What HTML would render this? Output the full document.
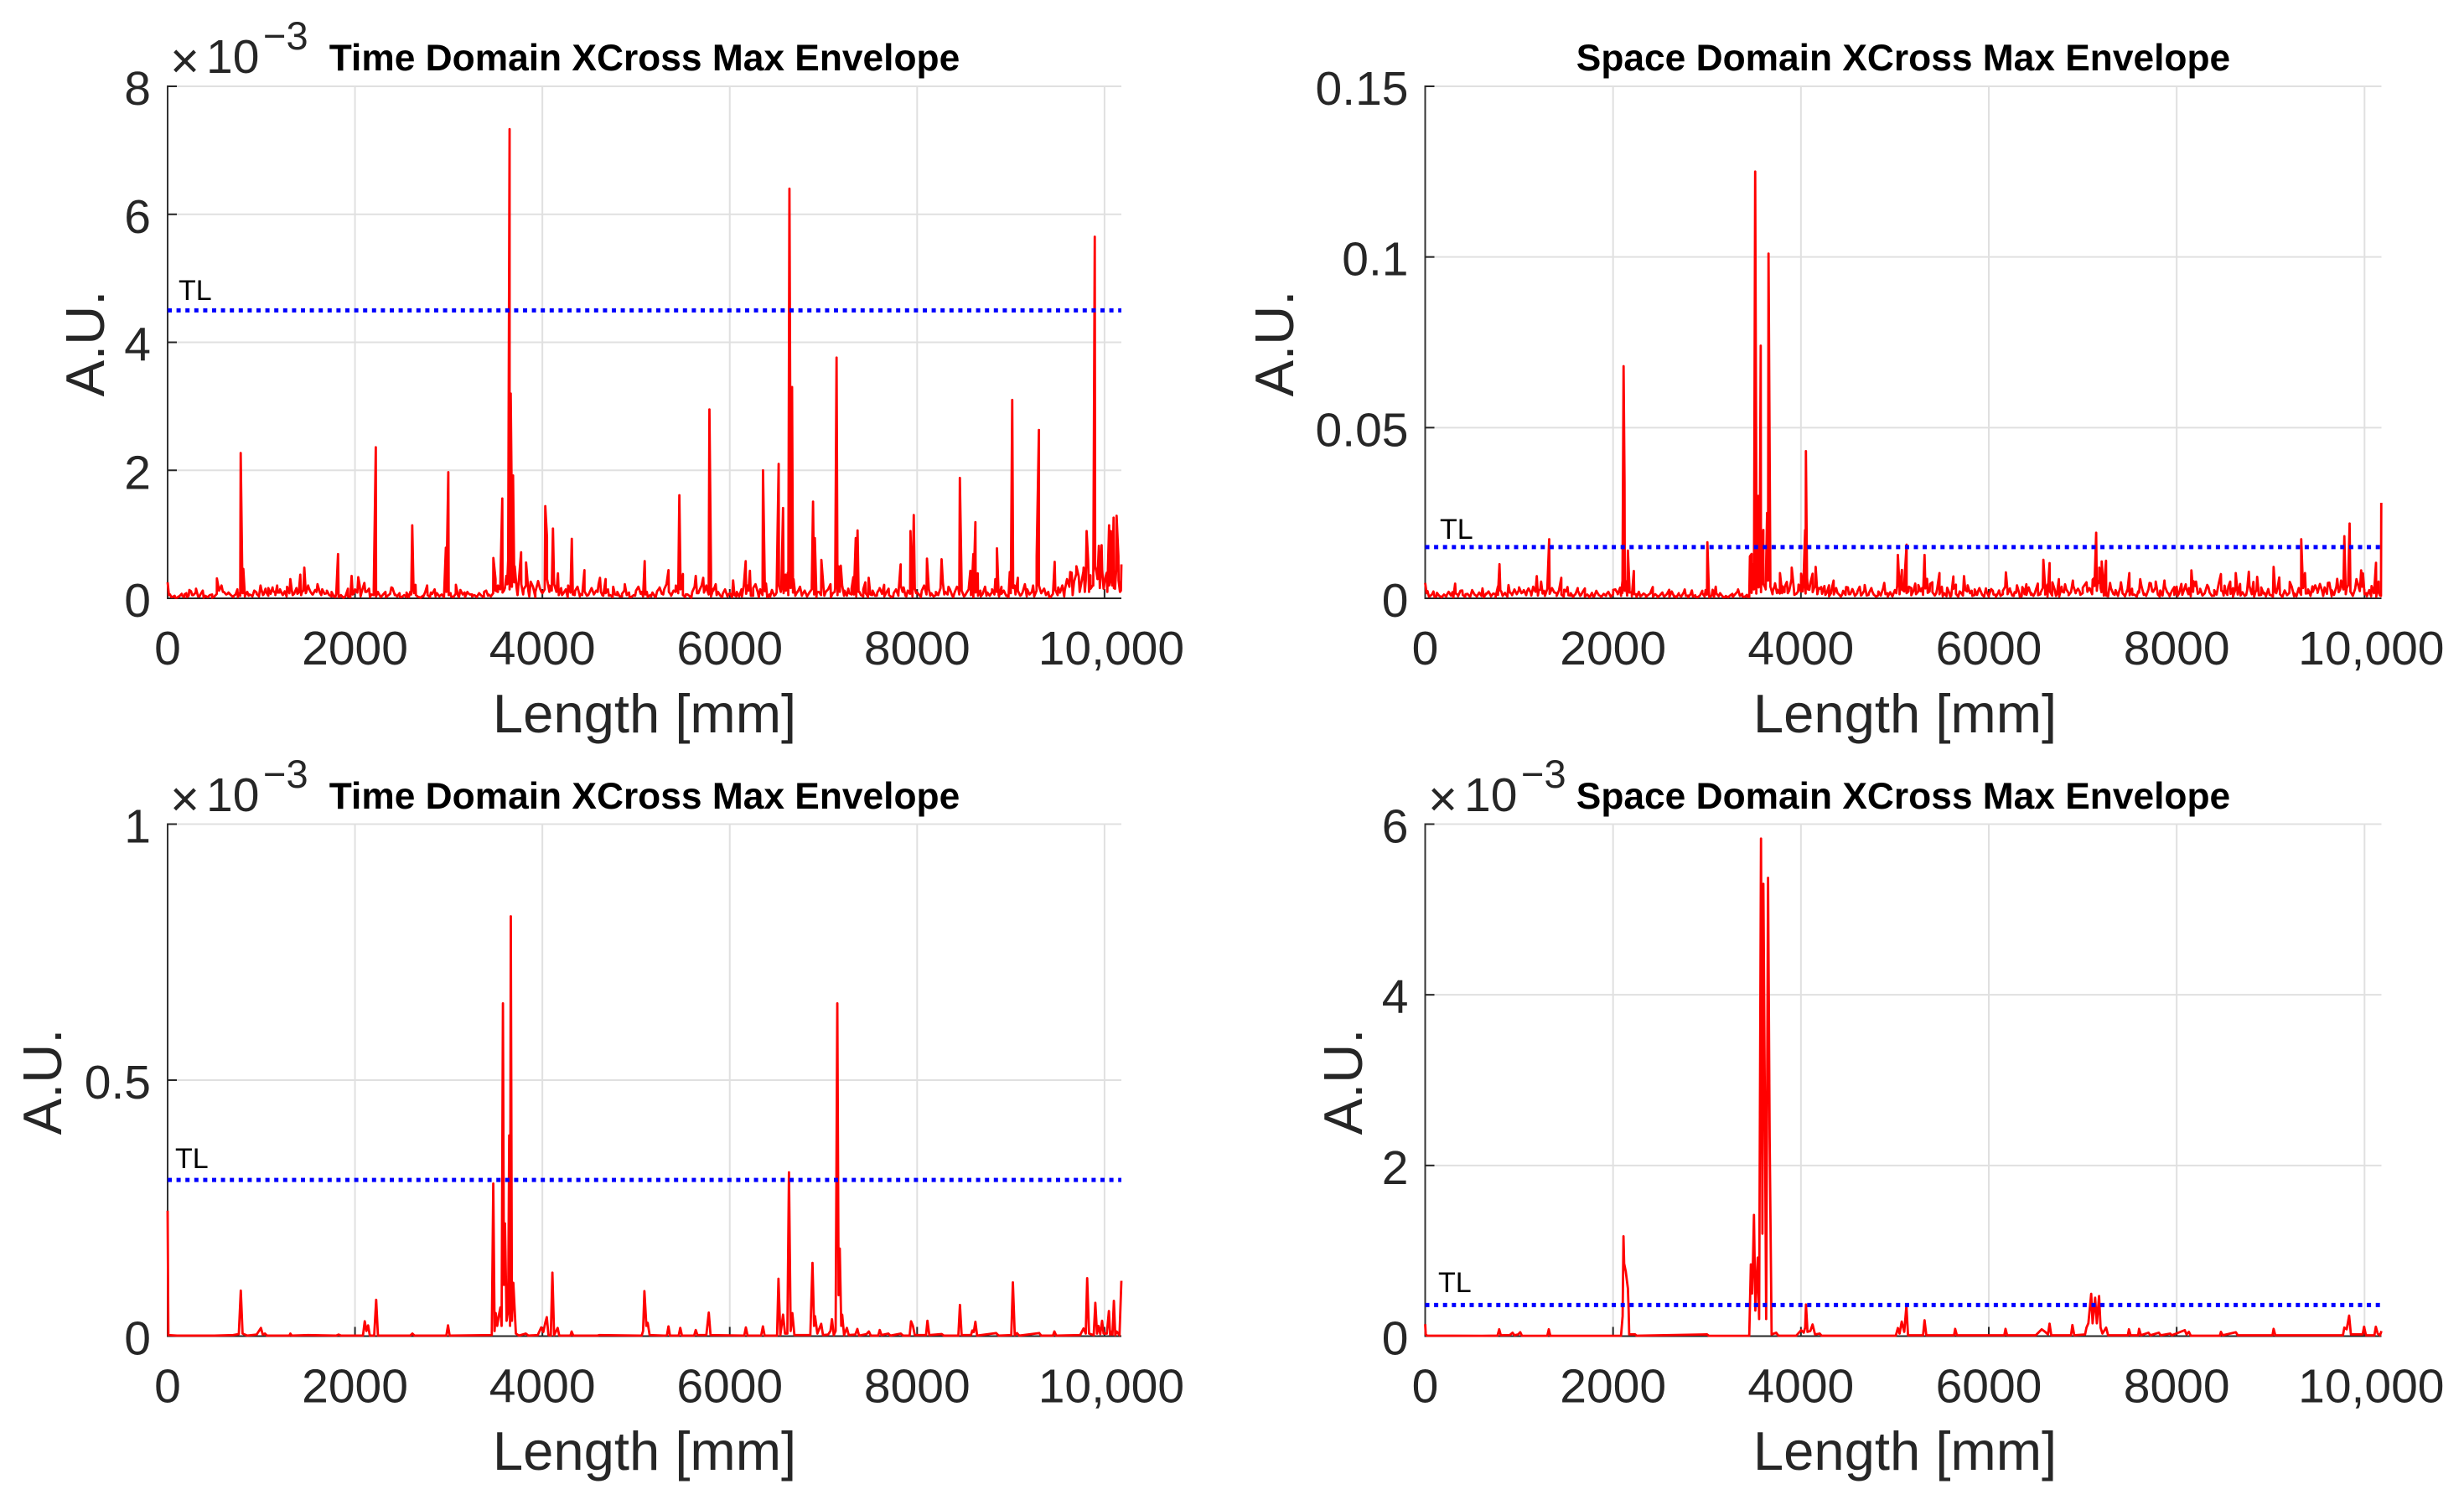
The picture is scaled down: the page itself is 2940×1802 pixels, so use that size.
<!DOCTYPE html>
<html lang="en">
<head>
<meta charset="utf-8">
<title>XCross Max Envelope Charts</title>
<style>
html,body{margin:0;padding:0;background:#fff;}
svg{display:block;font-family:"Liberation Sans",Arial,sans-serif;}
.title{font-size:44.3px;font-weight:bold;fill:#000;text-anchor:middle;}
.axis-label{font-size:65.2px;fill:#262626;text-anchor:middle;}
.tick-label{font-size:57px;fill:#262626;}
.exp{font-size:57px;fill:#262626;}
.exp-x{font-size:60px;fill:#262626;}
.exp-sup{font-size:47px;fill:#262626;}
.tl{font-size:34px;fill:#000;}
</style>
</head>
<body>
<svg id="chart" xmlns="http://www.w3.org/2000/svg" width="2940" height="1802" viewBox="0 0 2940 1802">
  <rect x="0" y="0" width="2940" height="1802" fill="#fff"/>

  <g id="panel-a"></g>
  <g id="panel-b"></g>
  <g id="panel-c"></g>
  <g id="panel-d"></g>

  <g>
    <text class="title" x="769" y="84">Time Domain XCross Max Envelope</text>
    <text class="axis-label" x="769" y="874">Length [mm]</text>
    <text class="axis-label" transform="translate(124 410) rotate(-90)">A.U.</text>
    <text class="tl" x="213" y="358">TL</text>
    <text class="exp-x" x="203" y="93">×</text>
    <text class="exp" x="246" y="87">10</text>
    <text class="exp-sup" x="314" y="59">−3</text>
  </g>
  <g>
    <text class="title" x="2271" y="84">Space Domain XCross Max Envelope</text>
    <text class="axis-label" x="2273" y="874">Length [mm]</text>
    <text class="axis-label" transform="translate(1543 410) rotate(-90)">A.U.</text>
    <text class="tl" x="1718" y="643">TL</text>
  </g>
  <g>
    <text class="title" x="769" y="965">Time Domain XCross Max Envelope</text>
    <text class="axis-label" x="769" y="1754">Length [mm]</text>
    <text class="axis-label" transform="translate(73 1291) rotate(-90)">A.U.</text>
    <text class="tl" x="209" y="1394">TL</text>
    <text class="exp-x" x="203" y="974">×</text>
    <text class="exp" x="246" y="968">10</text>
    <text class="exp-sup" x="314" y="940">−3</text>
  </g>
  <g>
    <text class="title" x="2271" y="965">Space Domain XCross Max Envelope</text>
    <text class="axis-label" x="2273" y="1754">Length [mm]</text>
    <text class="axis-label" transform="translate(1625 1291) rotate(-90)">A.U.</text>
    <text class="tl" x="1716" y="1542">TL</text>
    <text class="exp-x" x="1704" y="974">×</text>
    <text class="exp" x="1747" y="968">10</text>
    <text class="exp-sup" x="1815" y="940">−3</text>
  </g>
</svg>
<script>
// Shared x axis values (mm)
const xTicks = [0, 2000, 4000, 6000, 8000, 10000];
const xTickLabels = ['0', '2000', '4000', '6000', '8000', '10,000'];
const xMax = 10180;
// Spacing (mm) of the low-level floor samples listed in floorValuesA / floorValuesB
const floorSpacing = 25;

// Panel A: time domain, top (values in units of 1e-3)
const yTicksA = [0, 2, 4, 6, 8];
const yTickLabelsA = ['0', '2', '4', '6', '8'];
const yMaxA = 8;
const thresholdA = 4.5;
const lengthsA = [
0,14,40,80,120,150,179,205,232,262,
303,340,385,430,475,526,548,590,640,700,
745,765,780,795,808,830,865,905,950,992,
1018,1045,1075,1120,1150,1169,1195,1230,1270,1310,
1335,1385,1416,1435,1459,1480,1505,1545,1590,1640,
1700,1750,1790,1819,1840,1890,1925,1964,1990,2035,
2060,2110,2160,2200,2222,2245,2290,2330,2388,2430,
2480,2550,2590,2611,2630,2646,2680,2730,2770,2810,
2860,2925,2970,2996,3020,3050,3077,3110,3170,3201,
3250,3300,3378,3420,3477,3500,3525,3572,3590,3615,
3635,3650,3662,3675,3687,3705,3735,3773,3795,3826,
3860,3925,3954,3990,4031,4049,4075,4113,4140,4166,
4210,4270,4314,4345,4400,4449,4490,4550,4590,4615,
4640,4675,4710,4756,4800,4850,4880,4930,4990,5060,
5092,5115,5160,5210,5251,5290,5346,5375,5420,5462,
5482,5500,5530,5590,5637,5665,5717,5750,5783,5800,
5825,5860,5920,5985,6036,6070,6130,6170,6190,6215,
6250,6310,6355,6387,6430,6490,6522,6545,6569,6595,
6620,6637,6650,6665,6681,6720,6770,6830,6889,6908,
6930,6978,7010,7080,7120,7140,7160,7185,7220,7265,
7300,7319,7345,7364,7385,7425,7447,7465,7483,7520,
7570,7600,7648,7696,7745,7800,7824,7845,7856,7885,
7929,7945,7964,7990,8040,8105,8140,8200,8261,8290,
8335,8385,8440,8456,8475,8510,8568,8585,8600,8622,
8647,8680,8740,8800,8835,8852,8870,8900,8950,8989,
9015,9040,9075,9110,9170,9238,9276,9300,9320,9356,
9410,9468,9485,9506,9570,9634,9660,9698,9735,9777,
9790,9809,9835,9851,9880,9896,9915,9940,9955,9969,
9990,10010,10030,10049,10060,10068,10082,10097,10112,10129,
10148,10165,10180
];
const valuesA = [
.25,.05,.02,.01,.03,.07,.06,.02,.13,.05,
.15,.03,.01,.02,.06,.31,.13,.1,.07,.02,
.14,.08,2.27,.55,.46,.05,.04,.03,.09,.2,
.05,.15,.04,.17,.08,.2,.09,.05,.03,.3,
.05,.07,.37,.1,.48,.1,.17,.06,.1,.05,
.08,.03,.02,.69,.03,.02,.15,.35,.08,.33,
.03,.1,.02,.05,2.36,.1,.04,.02,.17,.06,
.02,.02,.1,1.14,.08,.21,.02,.03,.2,.09,
.03,.06,.79,1.97,.08,.02,.21,.02,.09,.09,
.06,.02,.1,.04,.63,.3,.1,1.56,.12,.35,
.6,7.33,3.2,1.2,1.92,.5,.05,.72,.06,.56,
.03,.02,.27,.1,1.44,.96,.1,1.09,.15,.39,
.05,.02,.93,.05,.03,.44,.05,.06,.1,.32,
.05,.3,.04,.18,.05,.03,.22,.02,.04,.1,
.58,.1,.03,.02,.17,.06,.44,.05,.1,1.61,
.15,.38,.06,.01,.35,.08,.32,.2,2.95,.4,
.15,.05,.02,.06,.28,.03,.03,.58,.2,.43,
.04,.02,2.0,.23,.02,.06,2.1,.1,1.41,.37,
.4,6.4,1.2,3.3,.3,.1,.04,.04,1.51,.94,
.1,.6,.04,.02,.1,3.76,.5,.51,.04,.15,
.06,.33,.94,1.06,.1,.03,.25,.05,.32,.05,
.04,.15,.21,.15,.03,.04,.53,.1,.17,.03,
1.05,.2,1.3,.08,.02,.62,.04,.05,.61,.06,
.18,.02,.15,1.88,.2,.04,.43,.2,.69,1.19,
.39,.03,.04,.1,.3,.78,.05,.18,.04,.41,
3.1,.2,.32,.05,.03,.2,.66,2.63,.1,.15,
.02,.57,.1,.17,.03,.41,.05,.38,.1,.48,
.1,1.05,.1,.15,.2,5.65,.4,.82,.3,.83,
.15,.33,.1,1.14,.3,1.05,.2,1.26,.15,1.29,
.66,.1,.53
];
const floorValuesA = [
.06,.02,.04,.01,.03,.05,.02,.08,.04,.11,.05,.09,.03,.06,.12,.04,.02,.05,.01,.03,
.07,.12,.2,.1,.06,.09,.05,.03,.06,.02,.04,.08,.03,.1,.06,.04,.12,.07,.03,.14,
.06,.1,.16,.07,.12,.05,.09,.14,.06,.11,.18,.08,.13,.07,.16,.09,.05,.12,.08,.2,
.1,.06,.13,.22,.09,.14,.07,.12,.05,.1,.03,.07,.02,.05,.01,.04,.03,.02,.06,.14,
.09,.2,.12,.24,.1,.15,.06,.12,.03,.08,.02,.06,.1,.04,.07,.16,.05,.03,.08,.02,
.05,.09,.02,.06,.12,.05,.02,.01,.04,.1,.05,.02,.07,.14,.08,.03,.06,.02,.1,.05,
.03,.02,.07,.04,.13,.06,.02,.1,.06,.03,.05,.02,.08,.04,.02,.12,.06,.03,.08,.12,
.2,.14,.09,.16,.22,.14,.18,.25,.16,.3,.22,.14,.2,.12,.26,.18,.1,.24,.15,.08,
.14,.3,.2,.12,.22,.1,.05,.16,.08,.14,.2,.09,.06,.12,.18,.07,.05,.11,.04,.08,
.16,.06,.12,.22,.1,.04,.08,.14,.05,.02,.06,.1,.03,.07,.12,.05,.09,.02,.05,.12,
.18,.07,.03,.06,.02,.05,.09,.03,.11,.16,.07,.14,.22,.1,.04,.12,.2,.08,.14,.05,
.02,.06,.03,.1,.18,.08,.12,.2,.09,.16,.06,.03,.12,.22,.1,.04,.07,.14,.03,.08,
.02,.05,.1,.03,.14,.2,.07,.12,.04,.16,.22,.09,.14,.05,.11,.02,.06,.13,.04,.09,
.2,.14,.08,.12,.05,.16,.09,.04,.1,.18,.06,.12,.03,.09,.14,.06,.02,.1,.05,.18,
.1,.14,.22,.08,.16,.05,.1,.2,.12,.04,.08,.15,.06,.03,.1,.05,.14,.08,.02,.06,
.12,.04,.09,.16,.07,.03,.1,.05,.02,.08,.14,.06,.2,.1,.04,.12,.07,.03,.15,.09,
.05,.12,.2,.06,.14,.08,.03,.1,.05,.16,.24,.1,.06,.14,.04,.09,.18,.06,.12,.03,
.08,.14,.05,.02,.09,.04,.12,.07,.18,.09,.04,.14,.06,.1,.03,.07,.12,.05,.02,.08,
.16,.06,.12,.04,.09,.22,.14,.06,.1,.03,.12,.2,.08,.14,.05,.1,.02,.07,.13,.05,
.09,.2,.12,.3,.18,.4,.26,.5,.34,.22,.42,.28,.6,.36,.2,.5,.3,.16,.44,.24,
.4,.2,.34,.16,.44,.28,.12,.3
];

// Panel B: space domain, top (values in units of 1e-3)
const yTicksB = [0, 50, 100, 150];
const yTickLabelsB = ['0', '0.05', '0.1', '0.15'];
const yMaxB = 150;
const thresholdB = 15;
const lengthsB = [
0,15,40,88,120,170,230,290,319,350,
395,430,480,540,610,650,700,750,775,791,
810,850,887,920,996,1040,1085,1130,1160,1188,
1210,1234,1265,1300,1320,1340,1400,1449,1480,1515,
1550,1590,1624,1660,1700,1740,1790,1822,1870,1930,
2003,2050,2085,2100,2112,2122,2135,2158,2175,2200,
2221,2245,2290,2350,2400,2423,2470,2540,2598,2650,
2700,2763,2800,2839,2880,2950,2985,3004,3020,3060,
3093,3140,3200,3270,3331,3380,3430,3457,3475,3490,
3513,3525,3545,3560,3572,3585,3600,3622,3640,3655,
3664,3680,3698,3720,3745,3777,3800,3827,3860,3902,
3930,3970,4002,4020,4045,4053,4065,4090,4124,4140,
4157,4190,4216,4260,4299,4320,4348,4390,4440,4481,
4510,4547,4600,4640,4679,4720,4761,4820,4887,4920,
4970,5015,5032,5050,5075,5100,5125,5145,5175,5217,
5250,5290,5316,5330,5343,5370,5399,5440,5475,5510,
5557,5590,5623,5650,5690,5736,5770,5818,5850,5888,
5930,5970,6000,6043,6075,6109,6150,6182,6200,6225,
6265,6291,6330,6357,6380,6400,6450,6490,6522,6550,
6581,6600,6625,6647,6677,6715,6746,6780,6812,6850,
6895,6930,6967,7000,7040,7070,7106,7125,7143,7160,
7176,7190,7202,7225,7248,7270,7291,7340,7407,7440,
7475,7496,7530,7590,7612,7650,7711,7740,7777,7820,
7870,7910,7975,8010,8060,8097,8130,8157,8180,8206,
8250,8300,8338,8400,8471,8490,8510,8540,8570,8600,
8629,8680,8740,8768,8790,8817,8840,8857,8900,8933,
8990,9032,9060,9092,9130,9204,9250,9300,9326,9345,
9366,9400,9445,9500,9560,9610,9650,9709,9740,9770,
9785,9810,9841,9860,9914,9940,9964,9983,10020,10070,
10105,10122,10149,10165,10178
];
const valuesB = [
4.5,1.5,.5,2,.6,.4,1,1.8,4.3,1,
2.3,1.2,.5,.8,2.9,1.4,.7,1.2,3.5,10,
2,1.6,3.9,1.3,2.3,1.8,2.1,.8,2.5,6.5,
2.4,4.9,2.2,2.8,17.3,2.3,1.5,6,2.5,3.3,
.8,1,3,1,2.9,.7,.5,2.2,.6,1.2,
2.5,1.4,.7,5,68,34,5,14,3,1.8,
8,1.2,.6,.9,1.5,3.3,.7,.6,2.5,.5,
1.5,2.6,.8,2.3,.4,2.2,2.4,16.4,2.3,2.5,
3.4,1.5,.4,1.3,2.6,.5,.4,12.3,13,10,
125,30,30,4,74,12,20,3,25,101,
57.6,3,1.2,3.7,1.5,7.4,1.5,3.3,1.5,9,
1,2,7.2,2,20,43.1,6,2.5,7.2,3,
9.2,3,3.3,1,3.8,1.5,5.2,1.5,1.2,3.3,
1.2,2.7,1.5,.8,3.9,1,1.9,.8,4.5,1.5,
.7,1.5,12.7,3,8.3,2,15.7,2,3,4.3,
2,3,12.7,4,5.7,2,4.7,1.5,7.4,.6,
3.1,.5,6.4,4,2,6.5,2,2.2,1,2.2,
1,2.9,.5,2.2,1,2.3,1.2,7.6,2,2.9,
.7,1.6,.5,3.3,1.2,4.1,1,1.5,4.3,1.2,
11.3,3,4,10.3,4.7,.7,5.6,2,4.1,1.5,
5.2,2,2,1.5,4.7,3,5.5,6,19.2,5,
9,3,10.8,.8,11,.6,4.5,1,4.7,1,
2.5,7.4,1,2,5.6,1,4.5,2,4.9,.5,
5.2,1.5,3.3,.7,1,4.1,3,8.2,5,4.9,
2,1.5,3.3,.8,7.1,2,3.7,1,4.9,3,
7.4,.8,1,7.8,2,4.8,2,6.3,1,1.6,
1,9.2,1.5,6.1,.8,4.8,.6,3,17.3,3,
7.4,1.5,3.5,2,.7,4.5,.6,5.7,2.5,3,
18.2,3,21.9,1.5,5.6,3,8.2,7.3,1.5,.6,
3,10.4,4.9,.8,28
];
const floorValuesB = [
2.1,.6,1.2,.4,1.6,.7,.3,1.1,.5,1.9,.8,.3,1.4,.6,2.2,1,.4,1.3,.5,2.4,
1.1,.5,1.7,.7,.3,1.2,2,.6,1.4,.4,1,2.3,.7,1.5,.5,1.8,.9,2.6,1.2,3.2,
1.5,2.4,.9,2.9,1.6,3.4,1.9,.8,2.5,1.4,.7,2.8,1.3,3,1.7,.7,2.4,1.1,.5,2,
.9,1.5,.4,1.2,2.3,.7,1.8,.5,1.1,.3,1.6,.6,2,.9,.4,1.3,.7,1.9,.5,1.1,
2.6,1.2,3.1,1.6,2.2,.8,1.7,.6,1.2,.4,1.9,.7,1.4,.4,1,1.8,.5,1.2,.3,.9,
1.7,.6,1.3,.4,2,.8,.3,1.1,.5,1.6,.7,.3,1.2,.5,.9,.3,.8,1.5,.5,1.1,
.3,.8,.4,1.4,.6,1.1,.3,.7,.3,.9,.4,1.2,2,.7,1.3,.4,1,.4,1.6,2.6,
1.4,3.2,1.8,4.2,2.6,5.2,3.4,2,4.4,2.5,1.4,3.6,1.8,4.8,2.2,5.6,2.8,1.3,4,2,
3.2,1.4,2.6,4.4,1.8,3.4,1.2,2.8,1.3,3.6,1.6,.6,2.4,1.1,3,1.3,.5,2.2,1,3.2,
1.2,2.6,.7,1.9,3.4,1.1,2.3,.8,1.6,3,1.1,.5,2,.8,2.9,1.2,.5,1.8,.6,2.4,
3.6,1.2,2.6,4.4,1.5,3.4,.9,2.3,1.2,3.9,2.1,1,2.9,1.6,4.2,1.8,.8,2.7,1.2,3.4,
1.5,.6,1.9,.7,2.8,1.3,.5,1.8,.8,2.4,3.8,1.5,.7,2.6,1,3,1.3,.5,2.1,.8,
2.7,1.1,.4,1.6,.7,2.2,3.4,1.2,2.6,.8,1.8,3.8,1.4,.6,2.3,1,3.2,1.6,.7,2.4,
.9,1.6,3,1.1,.5,2,.8,2.7,1.2,.5,3.4,1.7,2.6,.9,1.8,3.6,1.5,2.8,1,3.1,
4.1,1.9,2.9,1.2,3.6,2.2,4.5,1.8,2.9,.8,1.6,3,1.3,2.4,.7,3.2,1.4,.6,2,.9,
2.8,1.1,.5,1.7,3.6,1.5,.7,2.6,4.4,1.9,3.2,1.1,2.3,.8,3.5,1.7,.6,2.2,1,3.4,
1.4,4.2,2.2,3,1.2,.6,1.9,3.6,1.3,2.8,.8,1.6,3.9,1.7,.7,2.4,1.1,4.6,2.2,.8,
1.6,3.4,1.3,.5,2.6,1.1,4.2,1.8,.7,2.3,3.6,1.2,.5,2.2,.9,3.2,1.4,.6,2.7,1,
.5,1.8,3.1,1.2,.4,2.3,.9,1.6,3.4,1.5,.6,2.4,1,3.6,1.4,2.6,.7,1.9,3.8,1.6,
4.2,2,3.2,1.3,4.6,2.4,1,3.4,1.8,5.2,2.6,1.2,3.8,1.9,.7,2.8,4.6,2.1,3.4,1.2,
.6,2.4,3.6,1.5,.5,1.9,.7,1.2
];

// Panel C: time domain, bottom (values in units of 1e-3)
const yTicksC = [0, 0.5, 1];
const yTickLabelsC = ['0', '0.5', '1'];
const yMaxC = 1;
const thresholdC = 0.305;
const lengthsC = [
0,8,100,300,500,700,760,781,800,850,
950,996,1015,1039,1060,1200,1300,1310,1325,1500,
1800,1825,1850,2085,2104,2122,2140,2158,2205,2226,
2245,2590,2613,2635,2975,2993,3010,3460,3476,3490,
3502,3518,3535,3552,3565,3579,3590,3601,3618,3635,
3646,3655,3663,3675,3690,3717,3750,3823,3850,3950,
3988,4010,4031,4047,4065,4090,4107,4125,4163,4180,
4300,4312,4330,4590,4609,5060,5075,5089,5110,5124,
5145,5300,5330,5346,5362,5455,5472,5490,5620,5637,
5655,5750,5776,5795,6155,6172,6190,6335,6354,6372,
6505,6520,6540,6569,6590,6615,6632,6650,6668,6690,
6860,6883,6900,6910,6935,6976,6995,7050,7075,7091,
7110,7130,7148,7162,7174,7190,7200,7220,7250,7270,
7340,7362,7380,7460,7485,7505,7585,7601,7620,7693,
7715,7825,7850,7920,7935,7955,7975,8095,8110,8130,
8262,8285,8440,8457,8475,8575,8589,8605,8622,8640,
8843,8870,9005,9022,9042,9065,9090,9303,9325,9450,
9465,9485,9740,9776,9800,9815,9835,9885,9902,9920,
9935,9955,9974,9990,10025,10047,10060,10067,10085,10100,
10115,10130,10160,10180
];
const valuesC = [
.245,.002,.001,.001,.001,.002,.004,.089,.005,.001,
.003,.016,.003,.005,.001,.001,.001,.005,.001,.002,
.001,.003,.001,.001,.029,.01,.021,.001,.001,.071,
.001,.001,.005,.001,.001,.021,.001,.002,.298,.01,
.045,.02,.04,.056,.02,.65,.1,.22,.03,.05,
.392,.02,.82,.03,.104,.005,.001,.005,.001,.002,
.017,.008,.026,.037,.002,.001,.124,.002,.016,.001,
.001,.009,.001,.001,.002,.001,.01,.088,.02,.026,
.002,.001,.002,.019,.001,.001,.016,.001,.001,.012,
.002,.002,.046,.002,.001,.017,.001,.001,.019,.001,
.001,.112,.002,.042,.005,.005,.32,.01,.045,.002,
.002,.143,.02,.039,.005,.024,.002,.003,.01,.033,
.002,.01,.65,.08,.171,.02,.042,.002,.016,.002,
.003,.014,.001,.004,.009,.001,.001,.012,.002,.005,
.001,.005,.001,.001,.029,.02,.002,.002,.03,.002,
.004,.001,.001,.061,.002,.002,.011,.008,.028,.001,
.006,.001,.002,.105,.002,.006,.001,.006,.001,.001,
.009,.001,.002,.015,.005,.113,.005,.002,.065,.005,
.02,.004,.03,.005,.005,.049,.003,.009,.003,.069,
.002,.009,.002,.108
];

// Panel D: space domain, bottom (values in units of 1e-3)
const yTicksD = [0, 2, 4, 6];
const yTickLabelsD = ['0', '2', '4', '6'];
const yMaxD = 6;
const thresholdD = 0.365;
const lengthsD = [
0,6,20,300,600,770,788,805,900,930,
950,990,1012,1030,1300,1316,1332,2000,2085,2102,
2111,2118,2135,2158,2166,2172,2235,2250,3001,3020,
3450,3467,3480,3490,3500,3515,3540,3555,3575,3590,
3600,3617,3630,3650,3667,3688,3737,3760,3950,4002,
4030,4045,4054,4070,4100,4124,4150,4200,4220,5010,
5032,5050,5073,5100,5123,5140,5300,5316,5335,5630,
5642,5660,6165,6178,6195,6500,6563,6600,6630,6647,
6665,6875,6890,6910,7025,7040,7060,7090,7105,7132,
7150,7174,7190,7210,7249,7270,7480,7492,7510,7590,
7600,7620,7700,7720,7810,7830,7930,7950,8086,8105,
8130,8150,8460,8471,8490,8630,8650,9020,9032,9050,
9770,9785,9810,9836,9855,9980,9995,10015,10105,10120,
10140,10165,10180
];
const valuesD = [
.14,.02,.005,.005,.004,.005,.08,.01,.012,.04,
.01,.02,.046,.005,.004,.08,.004,.004,.005,.235,
1.17,.85,.76,.56,.3,.02,.02,.005,.02,.004,
.005,.84,.5,.9,1.42,.3,.92,.2,5.83,1.2,
5.3,2.6,.2,5.37,2.33,.02,.04,.005,.005,.07,
.04,.1,.37,.05,.06,.137,.02,.03,.005,.005,
.095,.03,.17,.05,.355,.01,.01,.186,.01,.01,
.085,.01,.01,.085,.01,.01,.08,.05,.02,.146,
.01,.01,.13,.01,.02,.1,.15,.496,.15,.45,
.15,.47,.1,.03,.1,.01,.01,.08,.01,.01,
.085,.01,.04,.01,.04,.01,.03,.01,.07,.02,
.05,.005,.005,.05,.01,.045,.01,.01,.085,.01,
.01,.1,.08,.24,.02,.02,.11,.01,.01,.11,
.03,.01,.06
];

const NS = 'http://www.w3.org/2000/svg';

function makeLine(parent, x1, y1, x2, y2, stroke, width) {
  const el = document.createElementNS(NS, 'line');
  el.setAttribute('x1', x1);
  el.setAttribute('y1', y1);
  el.setAttribute('x2', x2);
  el.setAttribute('y2', y2);
  el.setAttribute('stroke', stroke);
  el.setAttribute('stroke-width', width);
  parent.appendChild(el);
  return el;
}

function makeText(parent, x, y, anchor, content) {
  const el = document.createElementNS(NS, 'text');
  el.setAttribute('class', 'tick-label');
  el.setAttribute('x', x);
  el.setAttribute('y', y);
  el.setAttribute('text-anchor', anchor);
  el.textContent = content;
  parent.appendChild(el);
  return el;
}

function drawPanel(groupId, box, yTicks, yTickLabels, yMax, threshold, lengths, values, floorValues) {
  const g = document.getElementById(groupId);
  const sx = v => box.left + (v / xMax) * (box.right - box.left);
  const sy = v => box.bottom - (v / yMax) * (box.bottom - box.top);

  // grid lines
  xTicks.forEach(t => {
    if (t === 0) return;
    const grid = makeLine(g, sx(t), box.top, sx(t), box.bottom, '#e0e0e0', 2);
    
    
  });
  yTicks.forEach(t => {
    if (t === 0) return;
    const grid = makeLine(g, box.left, sy(t), box.right, sy(t), '#e0e0e0', 2);
    
    
  });

  // axes
  const xAxis = makeLine(g, box.left - 1, box.bottom, box.right, box.bottom, '#262626', 2);
  
  
  const yAxis = makeLine(g, box.left, box.top - 1, box.left, box.bottom + 1, '#333333', 2);
  
  

  // ticks and tick labels
  xTicks.forEach((t, i) => {
    if (t !== 0) {
      const tick = makeLine(g, sx(t), box.bottom, sx(t), box.bottom - 11, '#262626', 2);
      
      
    }
    const shift = i === xTicks.length - 1 ? 8 : 0;
    const label = makeText(g, sx(t) + shift, box.bottom + 79, 'middle', xTickLabels[i]);
    
    
  });
  yTicks.forEach((t, i) => {
    const tick = makeLine(g, box.left, sy(t), box.left + 11, sy(t), '#262626', 2);
    
    
    const label = makeText(g, box.left - 20, sy(t) + 22, 'end', yTickLabels[i]);
    
    
  });

  // envelope trace: peaks merged with the low-level floor samples, ordered by length
  const samples = [];
  const count = Math.min(lengths.length, values.length);
  for (let i = 0; i < count; i++) samples.push([lengths[i], values[i]]);
  floorValues.forEach((v, i) => {
    const at = (i + 1) * floorSpacing;
    if (at < xMax) samples.push([at, v]);
  });
  samples.sort((a, b) => a[0] - b[0]);
  let d = '';
  samples.forEach((s, i) => {
    d += (i ? 'L' : 'M') + sx(s[0]).toFixed(2) + ' ' + sy(s[1]).toFixed(2);
  });
  const trace = document.createElementNS(NS, 'path');
  trace.setAttribute('d', d);
  trace.setAttribute('fill', 'none');
  trace.setAttribute('stroke', '#ff0000');
  trace.setAttribute('stroke-width', '2.8');
  trace.setAttribute('stroke-linejoin', 'round');
  
  
  g.appendChild(trace);

  // threshold level
  const tl = makeLine(g, box.left, sy(threshold), box.right, sy(threshold), '#0000ff', 5);
  tl.setAttribute('stroke-dasharray', '5 5.6');
  
  
}

drawPanel('panel-a', {left: 200, right: 1338, top: 103, bottom: 714}, yTicksA, yTickLabelsA, yMaxA, thresholdA, lengthsA, valuesA, floorValuesA);
drawPanel('panel-b', {left: 1700.5, right: 2841.5, top: 103, bottom: 714}, yTicksB, yTickLabelsB, yMaxB, thresholdB, lengthsB, valuesB, floorValuesB);
drawPanel('panel-c', {left: 200, right: 1338, top: 983.5, bottom: 1594.5}, yTicksC, yTickLabelsC, yMaxC, thresholdC, lengthsC, valuesC, []);
drawPanel('panel-d', {left: 1700.5, right: 2841.5, top: 983.5, bottom: 1594.5}, yTicksD, yTickLabelsD, yMaxD, thresholdD, lengthsD, valuesD, []);
</script>
</body>
</html>
